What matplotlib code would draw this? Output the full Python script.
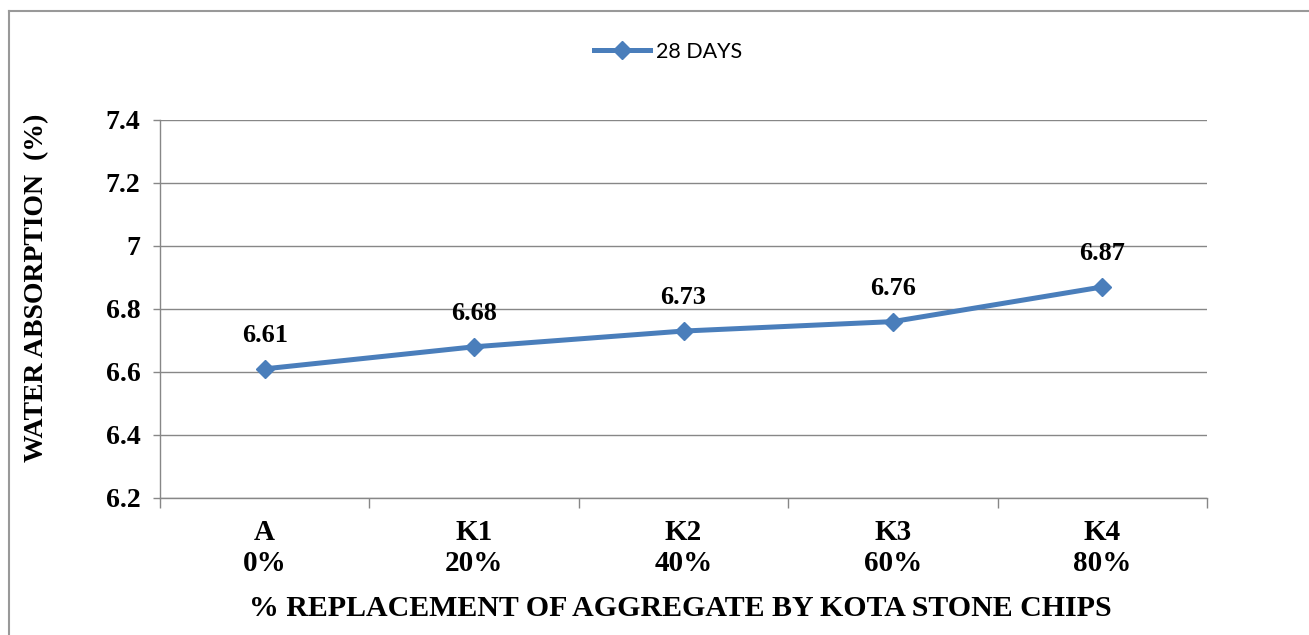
import numpy as np
import matplotlib
matplotlib.use("Agg")
from matplotlib import pyplot as plt
from matplotlib.lines import Line2D

# dados
categorias = ["A\n0%", "K1\n20%", "K2\n40%", "K3\n60%", "K4\n80%"]
absorcao_28 = [6.61, 6.68, 6.73, 6.76, 6.87]
yticks = [6.2, 6.4, 6.6, 6.8, 7.0, 7.2, 7.4]
ytick_labels = ["6.2", "6.4", "6.6", "6.8", "7", "7.2", "7.4"]

W, H = 1309, 635
fig = plt.figure(figsize=(W / 100, H / 100), dpi=100)

azul = "#4A7EBB"
cinza = "#878787"
serif = "Liberation Serif"

# moldura do grafico (so topo e esquerda aparecem)
fig.add_artist(Line2D([9 / W, 1], [1 - 11 / H, 1 - 11 / H], color="#999999", lw=1.5))
fig.add_artist(Line2D([9 / W, 9 / W], [0, 1 - 11 / H], color="#999999", lw=1.5))

ax = fig.add_axes([160 / W, (H - 498) / H, 1047 / W, 378 / H])

x = np.arange(len(categorias))
ax.plot(x, absorcao_28, color=azul, lw=3.6, marker="D", markersize=9.5, label="28 DAYS", zorder=3)

for xi, v in zip(x, absorcao_28):
    ax.annotate(f"{v:g}", (xi, v), xytext=(0, 19.5), textcoords="offset points",
                ha="center", va="baseline", fontsize=19, fontweight="bold", family=serif)

ax.set_xlim(-0.5, len(categorias) - 0.5)
ax.set_ylim(6.2, 7.4)
ax.set_yticks(yticks)
ax.set_yticklabels(ytick_labels, fontsize=20, fontweight="bold", family=serif)
ax.yaxis.grid(True, color=cinza, lw=1)
ax.set_axisbelow(True)

ax.set_xticks(x)
ax.set_xticklabels(categorias, fontsize=21, fontweight="bold", family=serif, linespacing=1.2)
ax.set_xticks(np.arange(-0.5, len(categorias)), minor=True)
ax.tick_params(axis="x", which="major", length=0, pad=15)
ax.tick_params(axis="x", which="minor", length=7, color=cinza, width=1)
ax.tick_params(axis="y", length=5, color=cinza, width=1, pad=9)

for s in ["top", "right"]:
    ax.spines[s].set_visible(False)
for s in ["left", "bottom"]:
    ax.spines[s].set_color(cinza)
    ax.spines[s].set_linewidth(1)

fig.text(680 / W, 1 - 609 / H, "% REPLACEMENT OF AGGREGATE BY KOTA STONE CHIPS",
         ha="center", va="center", fontsize=21.5, fontweight="bold", family=serif)
fig.text(37 / W, 1 - 288 / H, "WATER ABSORPTION  (%)", rotation=90,
         ha="center", va="center", fontsize=20, fontweight="bold", family=serif)

fig.legend(loc="center", bbox_to_anchor=(668 / W, 1 - 52 / H), frameon=False,
           prop={"family": "Lato", "size": 15.5}, handlelength=2.6, handletextpad=0.3)

fig.savefig("out.png", dpi=100)
